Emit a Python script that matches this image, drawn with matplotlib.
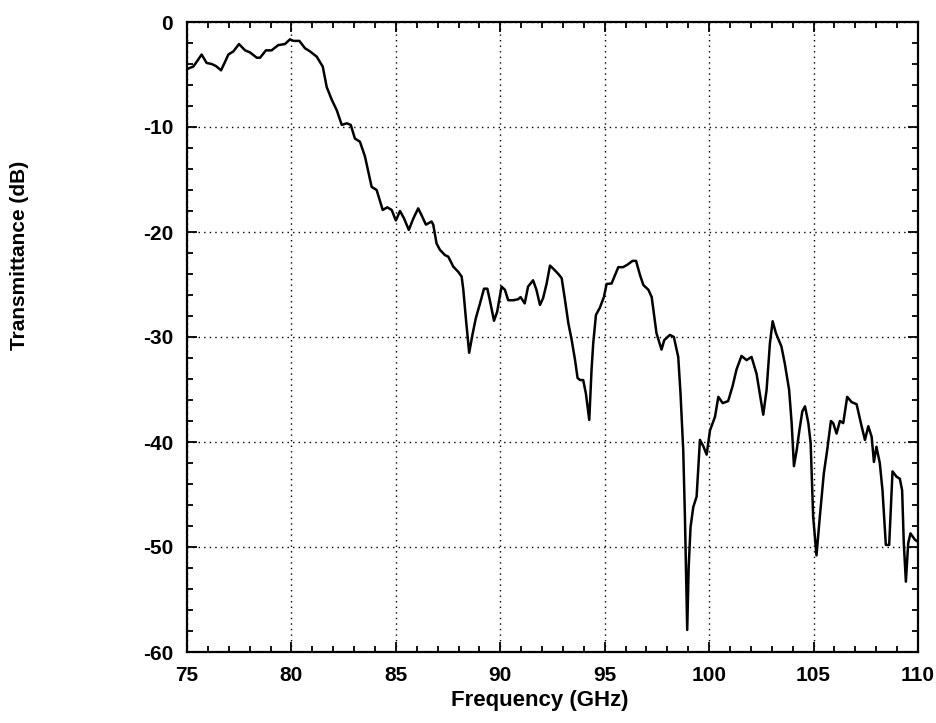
import matplotlib
matplotlib.use("Agg")
import matplotlib.pyplot as plt
from matplotlib.ticker import MultipleLocator

freq_ghz = [75.0, 75.1, 75.3, 75.46, 75.7, 75.94, 76.18, 76.39, 76.63, 76.82, 76.98, 77.22, 77.49,
            77.78, 78.02, 78.34, 78.5, 78.78, 79.05, 79.37, 79.69, 79.93, 80.09, 80.38, 80.65, 80.89,
            81.21, 81.5, 81.69, 81.93, 82.17, 82.41, 82.65, 82.84, 83.04, 83.28, 83.52, 83.84, 84.08,
            84.37, 84.59, 84.8, 85.0, 85.2, 85.39, 85.62, 85.84, 86.07, 86.23, 86.44, 86.71, 86.79,
            86.95, 87.11, 87.35, 87.51, 87.75, 87.99, 88.15, 88.23, 88.36, 88.51, 88.68, 88.83, 89.03,
            89.22, 89.38, 89.5, 89.7, 89.85, 90.06, 90.22, 90.38, 90.62, 90.86, 90.97, 91.17, 91.33,
            91.57, 91.73, 91.9, 92.05, 92.22, 92.38, 92.54, 92.78, 92.94, 93.1, 93.26, 93.42, 93.58,
            93.7, 93.82, 93.97, 94.1, 94.26, 94.37, 94.45, 94.58, 94.77, 94.96, 95.09, 95.33, 95.65,
            95.88, 96.1, 96.33, 96.5, 96.69, 96.85, 97.09, 97.25, 97.48, 97.72, 97.85, 98.12, 98.31,
            98.52, 98.63, 98.76, 98.84, 98.95, 99.02, 99.11, 99.24, 99.4, 99.56, 99.72, 99.88, 100.04,
            100.28, 100.44, 100.65, 100.91, 101.12, 101.31, 101.55, 101.79, 102.03, 102.27, 102.59,
            102.75, 102.91, 103.04, 103.2, 103.46, 103.62, 103.83, 103.95, 104.06, 104.19, 104.32,
            104.46, 104.59, 104.75, 104.86, 104.98, 105.14, 105.3, 105.49, 105.65, 105.83, 105.94,
            106.1, 106.26, 106.42, 106.61, 106.82, 107.06, 107.3, 107.46, 107.62, 107.78, 107.89,
            108.01, 108.17, 108.3, 108.46, 108.62, 108.78, 108.97, 109.13, 109.24, 109.32, 109.42,
            109.53, 109.64, 109.85, 109.99]

transmittance_db = [-4.5, -4.4, -4.25, -3.8, -3.1, -3.9, -4.0, -4.2, -4.6, -3.8, -3.1, -2.8, -2.1,
                    -2.7, -2.9, -3.4, -3.4, -2.7, -2.7, -2.2, -2.1, -1.65, -1.8, -1.8, -2.5, -2.8,
                    -3.3, -4.25, -6.2, -7.4, -8.4, -9.8, -9.65, -9.8, -11.1, -11.4, -12.8, -15.7, -16.0,
                    -17.9, -17.65, -17.9, -18.9, -18.0, -18.7, -19.8, -18.7, -17.75, -18.4, -19.3, -19.0, -19.3,
                    -21.1, -21.7, -22.2, -22.35, -23.3, -23.8, -24.25, -25.5, -28.4, -31.5, -29.65, -28.2, -26.8,
                    -25.4, -25.4, -26.5, -28.45, -27.6, -25.2, -25.5, -26.5, -26.5, -26.4, -26.2, -26.8, -25.2,
                    -24.6, -25.5, -26.95, -26.3, -24.9, -23.2, -23.5, -24.0, -24.4, -26.5, -28.7, -30.3, -32.2,
                    -33.9, -34.1, -34.1, -35.4, -37.9, -33.1, -30.6, -27.9, -27.2, -26.2, -24.95, -24.9, -23.35,
                    -23.35, -23.1, -22.75, -22.75, -24.1, -25.05, -25.5, -26.2, -29.65, -31.2, -30.3, -29.8, -30.0,
                    -31.9, -35.4, -40.8, -47.1, -57.9, -51.9, -48.1, -46.2, -45.2, -39.8, -40.4, -41.2, -38.9,
                    -37.6, -35.7, -36.3, -36.1, -34.7, -33.1, -31.8, -32.2, -31.9, -33.5, -37.4,
                    -35.05, -30.6, -28.5, -29.65, -30.9, -32.5, -35.05, -38.2, -42.3, -40.8, -38.9,
                    -37.1, -36.6, -38.2, -40.1, -47.1, -50.8, -47.1, -43.0, -40.8, -38.0, -38.2,
                    -39.2, -38.0, -38.2, -35.7, -36.2, -36.4, -38.5, -39.8, -38.5, -39.5, -41.9,
                    -40.45, -42.0, -44.6, -49.8, -49.8, -42.8, -43.3, -43.5, -44.6, -49.65, -53.3,
                    -49.65, -48.7, -49.3, -49.5]

x_ticks = [75, 80, 85, 90, 95, 100, 105, 110]
y_ticks = [0, -10, -20, -30, -40, -50, -60]
x_label = "Frequency (GHz)"
y_label = "Transmittance (dB)"

plt.rcParams['font.family'] = ['Liberation Sans', 'DejaVu Sans']
plt.rcParams['font.weight'] = 'bold'

fig = plt.figure(figsize=(9.37, 7.23), dpi=100)
ax = fig.add_axes([187 / 937, 1 - 652 / 723, (918 - 187) / 937, (652 - 22) / 723])

ax.plot(freq_ghz, transmittance_db, color='black', lw=1.8, solid_joinstyle='round')

ax.set_xlim(75, 110)
ax.set_ylim(-60, 0)
ax.set_xticks(x_ticks)
ax.set_yticks(y_ticks)
ax.xaxis.set_minor_locator(MultipleLocator(1))
ax.yaxis.set_minor_locator(MultipleLocator(2))
ax.set_xticklabels([str(v) for v in x_ticks], fontsize=15, fontweight='bold')
ax.set_yticklabels([str(v) for v in y_ticks], fontsize=15, fontweight='bold')

ax.tick_params(which='both', direction='in', top=True, right=True, width=1.3, color='black')
ax.tick_params(which='major', length=7, pad=10)
ax.tick_params(which='minor', length=4)

ax.grid(True, which='major', color='black', linestyle=(0, (1, 3)), linewidth=1.0)
for s in ax.spines.values():
    s.set_linewidth(1.6)

fig.text(540 / 937, 1 - 706 / 723, x_label, fontsize=16, fontweight='bold',
         ha='center', va='baseline')
fig.text(20 / 937, 1 - 255 / 723, y_label, rotation=90, fontsize=15, fontweight='bold',
         ha='center', va='center')

fig.savefig("out.png", dpi=100)
